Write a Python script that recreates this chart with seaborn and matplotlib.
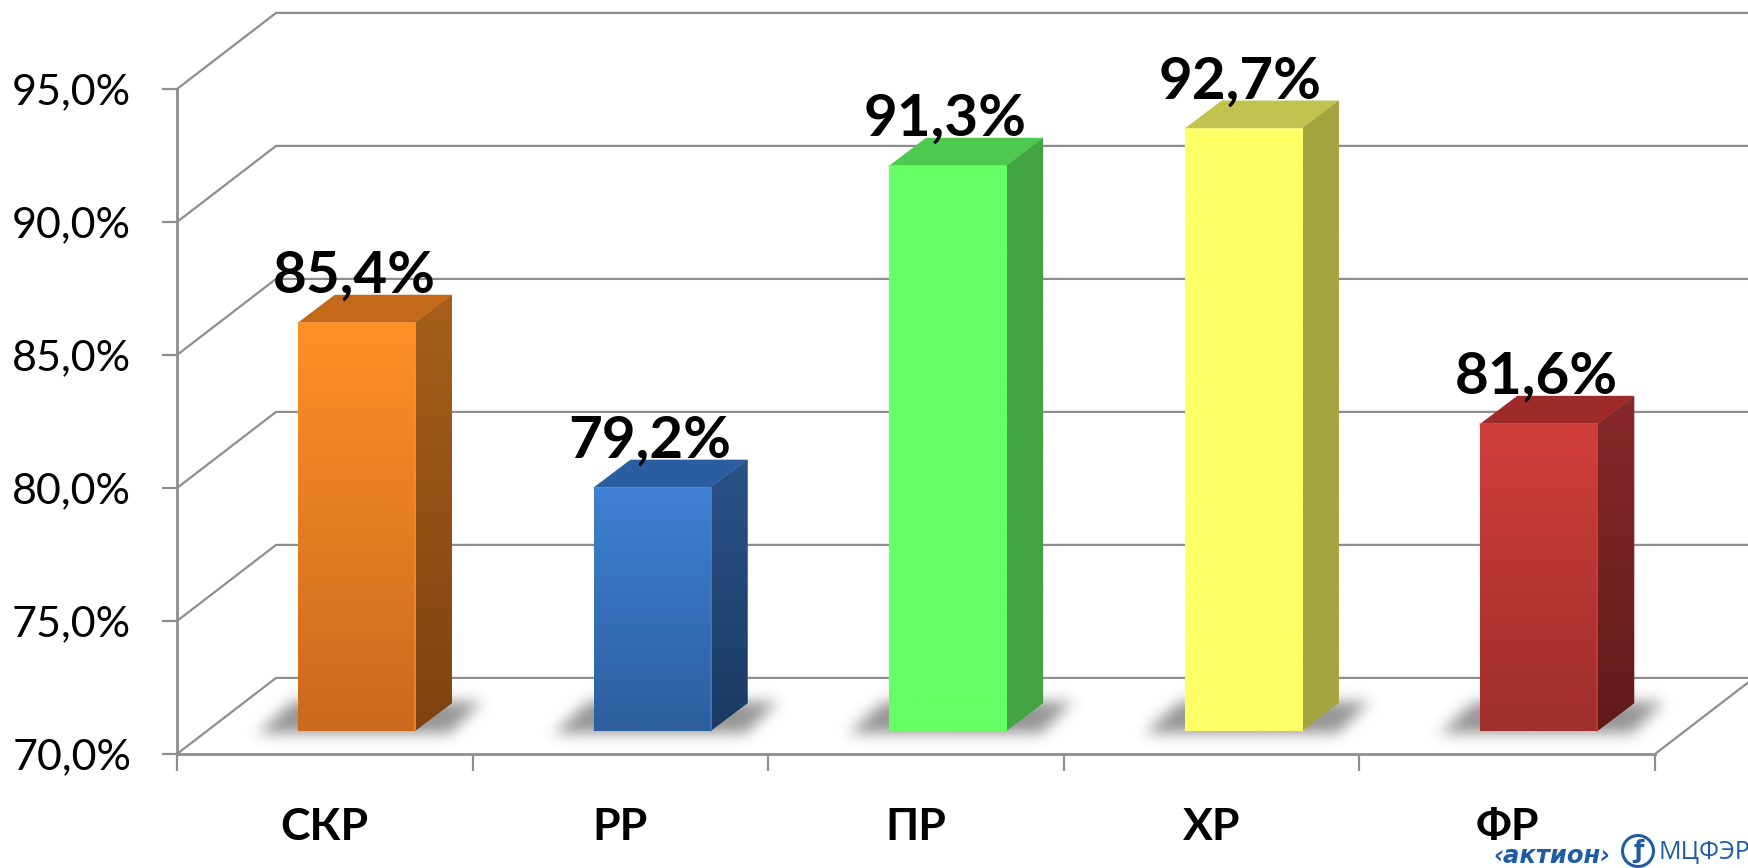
import numpy as np
import pandas as pd
import matplotlib
matplotlib.use("Agg")
import matplotlib.pyplot as plt
from matplotlib.colors import to_rgb
from matplotlib.patches import Polygon, Circle
from matplotlib.transforms import IdentityTransform
import seaborn as sns

# ---- data ----
categories = ["СКР", "РР", "ПР", "ХР", "ФР"]
values = [85.4, 79.2, 91.3, 92.7, 81.6]
value_labels = ["85,4%", "79,2%", "91,3%", "92,7%", "81,6%"]
y_ticks = [70, 75, 80, 85, 90, 95]
y_tick_labels = ["70,0%", "75,0%", "80,0%", "85,0%", "90,0%", "95,0%"]

front_top = ["#FF9028", "#3E80D2", "#66FF66", "#FFFF66", "#D03E3B"]
front_bottom = ["#CB691C", "#2E5F9E", "#66FF66", "#FFFF66", "#A02E2B"]
side_top = ["#A75F1A", "#2A5288", "#42A444", "#A5A540", "#88292A"]
side_bottom = ["#7F4310", "#1B3A63", "#42A444", "#A5A540", "#611A18"]
top_face = ["#C26A1A", "#2A5EA0", "#4DC94F", "#C2C24E", "#9E2B2A"]

W, H = 1748, 868
GRID = "#8E8E8E"
FONT = ["Lato", "Open Sans", "DejaVu Sans"]

sns.set_theme(style="white")
plt.rcParams["font.family"] = FONT

fig = plt.figure(figsize=(W / 100, H / 100), dpi=100, facecolor="white")
ax = fig.add_axes([177 / W, 1 - 754 / H, (1655 - 177) / W, (754 - 89) / H])
ax.patch.set_alpha(0)

df = pd.DataFrame({"cat": categories, "val": values})
sns.barplot(data=df, x="cat", y="val", hue="cat", palette=front_top, dodge=False,
            legend=False, width=0.396, ax=ax, zorder=5, linewidth=0)

# projection constants, in data units (categories, percent)
WALL_X, WALL_Y = 0.335, 2.86     # floor depth
BAR_X, BAR_Y = 0.107, 0.865      # bar offset from the front edge of the floor
DEPTH_X, DEPTH_Y = 0.125, 1.05   # bar depth
XMIN, XMAX = -0.5, 4.5
YMIN, YMAX = 70, 95
PX_X = (XMAX - XMIN) / (1655 - 177)   # one pixel in category units
PX_Y = (YMAX - YMIN) / (754 - 89)     # one pixel in percent units


def gradient(clip, x0, x1, y0, y1, c_top, c_bottom, z):
    rows = np.linspace(0, 1, 64)[:, None, None]
    arr = (1 - rows) * np.array(to_rgb(c_bottom))[None, None, :] + rows * np.array(to_rgb(c_top))[None, None, :]
    im = ax.imshow(arr, extent=(x0, x1, y0, y1), origin="lower", aspect="auto",
                   interpolation="bilinear", zorder=z)
    im.set_clip_path(clip)


def shadow_sprite():
    """Blurred floor shadow; u, v are pixels from the bar's lower right front corner."""
    u = np.arange(-220, 140)
    v = np.arange(-30, 70)
    uu, vv = np.meshgrid(u, v)
    mask = ((vv > -3) & (vv < 30)
            & (uu > -155 + vv * 1.1)
            & (uu < 38 + vv * 1.0)).astype(float)
    s = 7.0
    kernel = np.exp(-0.5 * (np.arange(-21, 22) / s) ** 2)
    kernel /= kernel.sum()
    mask = np.apply_along_axis(lambda r: np.convolve(r, kernel, mode="same"), 1, mask)
    mask = np.apply_along_axis(lambda c: np.convolve(c, kernel, mode="same"), 0, mask)
    rgba = np.zeros(mask.shape + (4,))
    rgba[..., :3] = 0.33
    rgba[..., 3] = mask * 0.62
    return rgba, (u[0], u[-1], v[0], v[-1])


sprite, (u0, u1, v0, v1) = shadow_sprite()

# walls: gridlines in perspective
for t in y_ticks:
    ax.plot([XMIN, XMIN + WALL_X, XMAX + WALL_X], [t, t + WALL_Y, t + WALL_Y],
            color=GRID, lw=1.6, clip_on=False, zorder=1, solid_joinstyle="miter")
ax.plot([XMAX, XMAX + WALL_X], [YMIN, YMIN + WALL_Y], color=GRID, lw=1.6, clip_on=False, zorder=1)

# bars
for i, (patch, v) in enumerate(zip(ax.patches, values)):
    x0 = i - 0.198 + BAR_X
    x1 = i + 0.198 + BAR_X
    base = YMIN + BAR_Y
    top = v + BAR_Y - 0.05
    patch.set_x(x0)
    patch.set_y(base)
    patch.set_height(top - base)
    patch.set_clip_on(False)
    patch.set_edgecolor("none")

    # soft shadow on the floor
    ax.imshow(sprite, extent=(x1 + u0 * PX_X, x1 + u1 * PX_X, base + v0 * PX_Y, base + v1 * PX_Y),
              origin="lower", aspect="auto", interpolation="bilinear", zorder=2, clip_on=False)

    # front gradient
    gradient(patch, x0, x1, base, top, front_top[i], front_bottom[i], 6)

    # right side
    side_pts = [(x1, base), (x1 + DEPTH_X, base + DEPTH_Y),
                (x1 + DEPTH_X, top + DEPTH_Y), (x1, top)]
    side = Polygon(side_pts, closed=True, facecolor=side_top[i], edgecolor="none", zorder=4, clip_on=False)
    ax.add_patch(side)
    gradient(side, x1, x1 + DEPTH_X, base, top + DEPTH_Y, side_top[i], side_bottom[i], 4.5)

    # top
    ax.add_patch(Polygon([(x0, top), (x1, top), (x1 + DEPTH_X, top + DEPTH_Y), (x0 + DEPTH_X, top + DEPTH_Y)],
                         closed=True, facecolor=top_face[i], edgecolor="none", zorder=4, clip_on=False))

    # bevel highlight along the front edge
    ax.plot([x1, x1], [base, top], color=front_top[i], lw=1.2, alpha=0.7, zorder=7, clip_on=False)
    ax.plot([x0, x1], [top, top], color=front_top[i], lw=1.2, alpha=0.7, zorder=7, clip_on=False)

    # value label
    ax.text(i + BAR_X - 0.009, top + 1.13, value_labels[i], ha="center", va="baseline",
            fontsize=42, fontweight="bold", color="black", zorder=8, clip_on=False)

ax.set_xlim(XMIN, XMAX)
ax.set_ylim(YMIN, YMAX)

# axes, ticks
for s in ("top", "right"):
    ax.spines[s].set_visible(False)
for s in ("left", "bottom"):
    ax.spines[s].set_color(GRID)
    ax.spines[s].set_linewidth(2.0)
    ax.spines[s].set_zorder(3)

ax.set_yticks(y_ticks, labels=y_tick_labels)
ax.tick_params(axis="y", length=11, width=1.6, color=GRID, pad=22, labelsize=31, labelcolor="black", left=True)
ax.set_xticks(np.arange(XMIN, XMAX + 0.5), labels=[""] * 6)
ax.set_xticks(np.arange(5), labels=categories, minor=True)
ax.tick_params(axis="x", which="major", length=12, width=1.6, color=GRID, bottom=True)
ax.tick_params(axis="x", which="minor", length=0, pad=38, labelsize=32, labelcolor="black")
for lab in ax.get_xticklabels(minor=True):
    lab.set_fontweight("bold")
ax.set_xlabel("")
ax.set_ylabel("")

# publisher mark at the corner
BLUE = "#1F5CA6"
fig.text(1552 / W, 1 - 856 / H, "‹актион›", ha="center", va="center", fontsize=17.5,
         fontweight="bold", style="italic", color=BLUE, family=["DejaVu Sans"])
fig.text(1704 / W, 1 - 853 / H, "МЦФЭР", ha="center", va="center", fontsize=18,
         fontweight="medium", color=BLUE, family=["Open Sans", "DejaVu Sans"])
fig.add_artist(Circle((1638, H - 851), 15.5, transform=IdentityTransform(), fill=False,
                      edgecolor=BLUE, linewidth=2.2))
fig.text(1638 / W, 1 - 851 / H, "ƒ", ha="center", va="center", fontsize=17, fontweight="bold",
         color=BLUE, family=["DejaVu Sans"])

fig.savefig("out.png", dpi=100, facecolor="white")
